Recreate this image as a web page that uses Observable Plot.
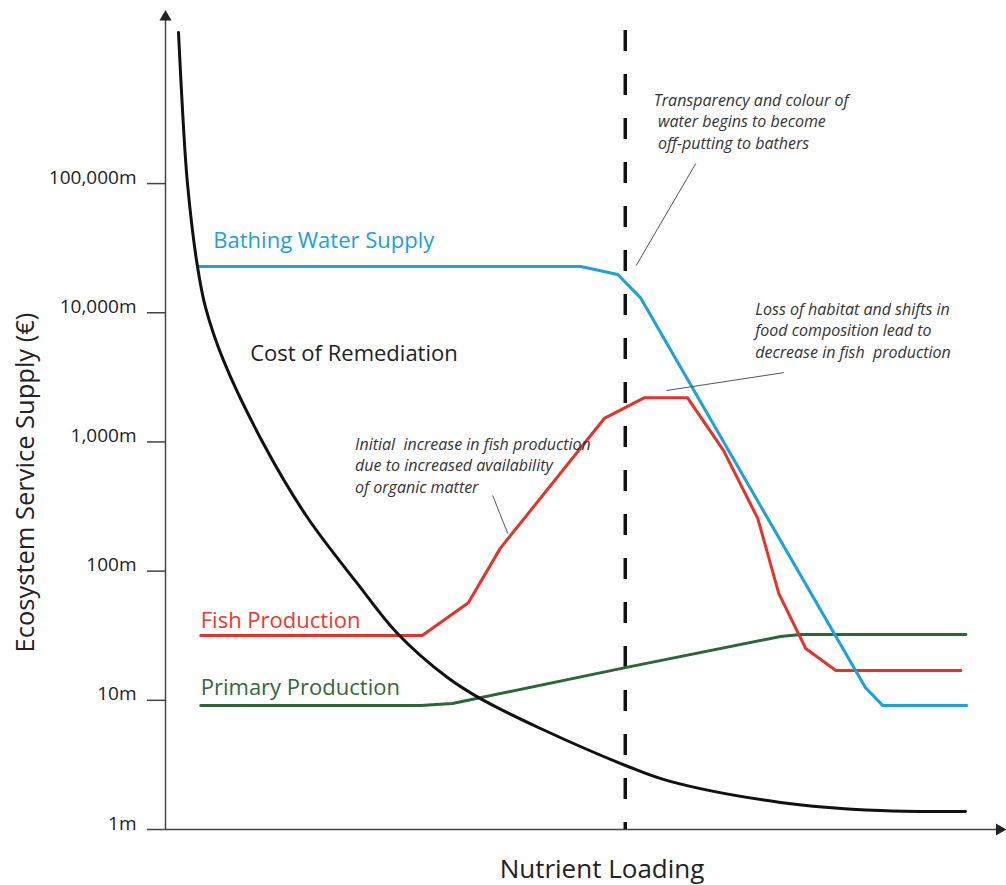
<!DOCTYPE html>
<html><head><meta charset="utf-8">
<script src="https://cdn.jsdelivr.net/npm/d3@7"></script>
<script src="https://cdn.jsdelivr.net/npm/@observablehq/plot@0.6"></script>
<style>
body{margin:0;background:#fff}
svg text{white-space:pre}
</style>
</head><body><div id="chart"></div>
<script>
// ---- data (x: nutrient loading, 0–100 arbitrary units; y: ecosystem service supply, € millions, log scale)
const bathingX = [3.8, 49.5, 53.9, 56.6, 83.4, 85.5, 95.5];
const bathingY = [22800, 22800, 19800, 13100, 12.6, 9.1, 9.1];
const fishX = [4.2, 30.6, 36.1, 39.9, 52.3, 57.1, 62.2, 66.5, 70.6, 73.1, 76.3, 79.9, 94.8];
const fishY = [31.7, 31.7, 57, 150, 1520, 2200, 2200, 860, 255, 67, 25.2, 17, 17];
const primaryX = [4.2, 30.4, 34.2, 54.8, 73.3, 75.7, 95.4];
const primaryY = [9.1, 9.1, 9.45, 17.9, 31.2, 32.3, 32.3];
const costX = [1.55, 2.03, 2.62, 3.81, 4.77, 6.91, 11.92, 16.92, 22.88, 27.65, 33.61, 37.54, 44.7, 54.83, 59.83, 73.3, 85.22, 95.35];
const costY = [1476000, 367000, 100000, 22800, 11000, 4275, 906, 260, 80, 32.9, 15.0, 10.3, 6.05, 3.13, 2.39, 1.62, 1.40, 1.38];
const yTicks = [1, 10, 100, 1000, 10000, 100000];
const thresholdX = 54.8;
const seriesLabels = [
  {x: 5.7, y: 32000, text: "Bathing Water Supply", color: "#1d9fd8"},
  {x: 10.1, y: 4270, text: "Cost of Remediation", color: "#222222"},
  {x: 4.2, y: 36.6, text: "Fish Production", color: "#e63a2e"},
  {x: 4.2, y: 10.9, text: "Primary Production", color: "#33693a"}
];
const notes = [
  {x: 58.2, y: 186600, text: "Transparency and colour of\n water begins to become\n off-putting to bathers"},
  {x: 70.3, y: 4500, text: "Loss of habitat and shifts in\nfood composition lead to\ndecrease in fish  production"},
  {x: 22.6, y: 406, text: "Initial  increase in fish production\ndue to increased availability\nof organic matter"}
];
const leaders = [
  {x1: 63.2, y1: 142900, x2: 56.1, y2: 23200},
  {x1: 73.7, y1: 3440, x2: 59.7, y2: 2500},
  {x1: 39.0, y1: 385, x2: 40.8, y2: 195}
];

const toRows = (xs, ys) => xs.map((x, i) => ({x, y: ys[i]}));
const bathing = toRows(bathingX, bathingY);
const fish = toRows(fishX, fishY);
const primary = toRows(primaryX, primaryY);
const cost = toRows(costX, costY);

const chart = Plot.plot({
  width: 1006, height: 885,
  marginLeft: 165, marginRight: 2, marginTop: 15, marginBottom: 56,
  style: {fontFamily: "'Open Sans', sans-serif", background: "#fff", color: "#222", overflow: "visible"},
  x: {domain: [0, 100], axis: null},
  y: {type: "log", domain: [1, 2e6], axis: null},
  marks: [
    Plot.axisY({ticks: yTicks, tickFormat: d => d3.format(",")(d) + "m", tickSize: 18, tickPadding: 11,
      fontSize: 19, lineAnchor: "bottom", label: null, strokeWidth: 1.5, stroke: "#444"}),
    // axes lines
    Plot.ruleX([0], {y1: 1, y2: 1.85e6, stroke: "#444", strokeWidth: 1.5}),
    Plot.ruleY([1], {x1: 0, x2: 99.3, stroke: "#444", strokeWidth: 1.5}),
    Plot.dot([{x: 0, y: 1.95e6}], {x: "x", y: "y", symbol: "triangle", r: 4.5, fill: "#222", stroke: "none"}),
    Plot.dot([{x: 99.4, y: 1}], {x: "x", y: "y", symbol: "triangle", r: 4.5, fill: "#222", stroke: "none", rotate: 90}),
    // threshold
    Plot.ruleX([thresholdX], {y1: 1, y2: 1.53e6, stroke: "#111", strokeWidth: 3.5, strokeDasharray: "21,23", strokeDashoffset: 14}),
    // series
    Plot.line(primary, {x: "x", y: "y", stroke: "#2b6636", strokeWidth: 3}),
    Plot.line(fish, {x: "x", y: "y", stroke: "#e5332a", strokeWidth: 3}),
    Plot.line(bathing, {x: "x", y: "y", stroke: "#1ba1db", strokeWidth: 3}),
    Plot.line(cost, {x: "x", y: "y", stroke: "#111", strokeWidth: 3, curve: "catmull-rom"}),
    // leader lines
    Plot.link(leaders, {x1: "x1", y1: "y1", x2: "x2", y2: "y2", stroke: "#555", strokeWidth: 1}),
    // labels
    Plot.text(seriesLabels, {x: "x", y: "y", text: "text", fill: "color", fontSize: 22, textAnchor: "start", lineAnchor: "bottom"}),
    Plot.text(notes, {x: "x", y: "y", text: "text", fill: "#333", fontSize: 16, fontStyle: "italic", textAnchor: "start", lineAnchor: "bottom", lineHeight: 1.34}),
    Plot.text(["Nutrient Loading"], {frameAnchor: "bottom", dx: 17, dy: 48, fontSize: 26, fill: "#222", lineAnchor: "bottom"}),
    Plot.text(["Ecosystem Service Supply (€)"], {frameAnchor: "left", dx: -140, dy: 60, rotate: -90, fontSize: 25.5, fill: "#222", textAnchor: "middle", lineAnchor: "middle"})
  ]
});
document.getElementById("chart").appendChild(chart);
</script>
</body></html>
